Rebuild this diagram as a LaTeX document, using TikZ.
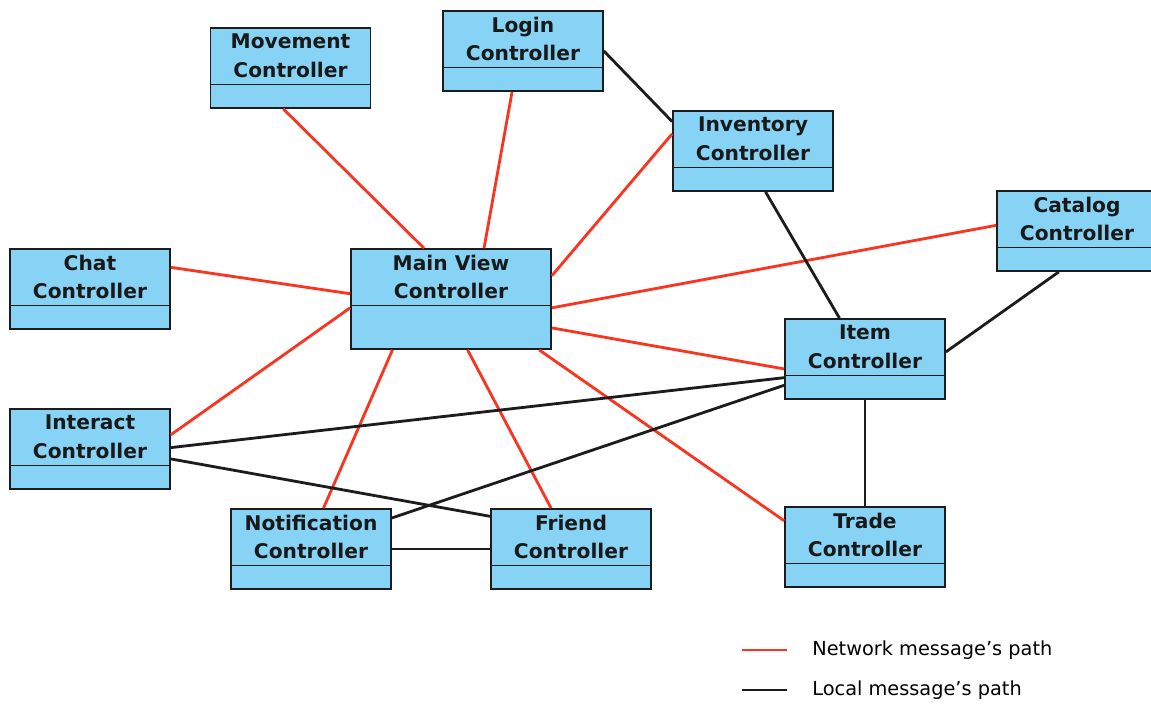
\documentclass[tikz,border=0pt]{standalone}
\usepackage{fontspec}
\setmainfont{DejaVu Sans}
\definecolor{boxblue}{RGB}{135,211,245}
\definecolor{netred}{RGB}{250,52,30}
\definecolor{localblack}{RGB}{28,28,28}
\begin{document}
\begin{tikzpicture}[x=0.02cm, y=-0.02cm,
	ctrl/.style={draw=localblack, line width=1pt, fill=boxblue, minimum width=3.2cm, minimum height=1.6cm, inner sep=0pt,
		path picture={\draw[localblack, line width=1.1pt] ([yshift=-1.13cm]path picture bounding box.north west) -- ([yshift=-1.13cm]path picture bounding box.north east);}},
	title/.style={anchor=north, minimum height=1.13cm, inner sep=0pt, align=center, text=black!90, font=\bfseries\fontsize{11.5}{16}\selectfont},
	net/.style={draw=netred, line width=1.6pt},
	local/.style={draw=localblack, line width=1.6pt},
	legend/.style={anchor=west, inner sep=0pt, font=\fontsize{11}{13}\selectfont}]
				\useasboundingbox (0,0) rectangle (1151,703);
				
				\node[ctrl, label={[title]north:Movement\\Controller}] (mov) at (290.5,68) {};
				\node[ctrl, label={[title]north:Login\\Controller}] (login) at (523,51) {};
				\node[ctrl, label={[title]north:Inventory\\Controller}] (inv) at (753,151) {};
				\node[ctrl, label={[title]north:Catalog\\Controller}] (cat) at (1077,231) {};
				\node[ctrl, label={[title]north:Chat\\Controller}] (chat) at (90,289) {};
				\node[ctrl, minimum width=4cm, minimum height=2cm, label={[title]north:Main View\\Controller}] (main) at (451,299) {};
				\node[ctrl, label={[title]north:Item\\Controller}] (item) at (865,359) {};
				\node[ctrl, label={[title]north:Interact\\Controller}] (inter) at (90,449) {};
				\node[ctrl, label={[title]north:Notification\\Controller}] (notif) at (311,549) {};
				\node[ctrl, label={[title]north:Friend\\Controller}] (friend) at (571,549) {};
				\node[ctrl, label={[title]north:Trade\\Controller}] (trade) at (865,547) {};
				
				% network paths
				\draw[net] (mov.-100.6) -- (main.118.4);
				\draw[net] (login.-105.4) -- (main.57.4);
				\draw[net] (inv.168.7) -- (main.13.5);
				\draw[net] (cat.176) -- (main.-5.7);
				\draw[net] (chat.15.4) -- (main.177.7);
				\draw[net] (inter.10.6) -- (main.185.1);
				\draw[net] (notif.73.3) -- (main.-139.2);
				\draw[net] (friend.116.6) -- (main.-72.3);
				\draw[net] (trade.162.6) -- (main.-30.8);
				\draw[net] (item.187.1) -- (main.-16.7);
				
				% local paths
				\draw[local] (login.0.7) -- (inv.160.1);
				\draw[local] (inv.-73.3) -- (item.122);
				\draw[local] (cat.-114) -- (item.5);
				\draw[local] (item.south) -- (trade.north);
				\draw[local] (item.193.4) -- (inter.1.4);
				\draw[local] (item.198) -- (notif.21.8);
				\draw[local] (inter.-7.1) -- (friend.158.2);
				\draw[local] (notif.east) -- (friend.west);
				
				\node[legend] (netkey) at (812,650) {Network message’s path};
				\node[legend] (localkey) at (812,690) {Local message’s path};
				\draw[net] ([xshift=-1.4cm]netkey.west) -- ([xshift=-0.5cm]netkey.west);
				\draw[local] ([xshift=-1.4cm]localkey.west) -- ([xshift=-0.5cm]localkey.west);
			\end{tikzpicture}
\end{document}
